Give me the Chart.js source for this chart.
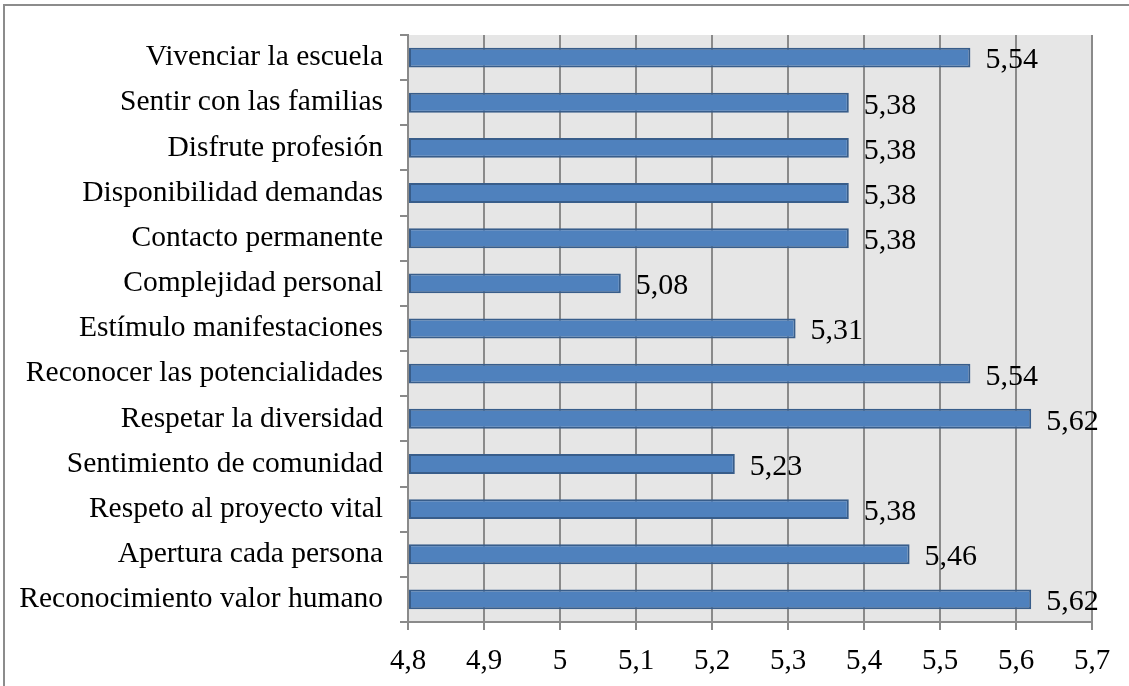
<!DOCTYPE html>
<html>
<head>
<meta charset="utf-8">
<script src="https://cdn.jsdelivr.net/npm/chart.js@4/dist/chart.umd.min.js"></script>
<style>
  html, body { margin: 0; padding: 0; background: #fff; }
  #wrap { position: relative; width: 1129px; height: 686px; overflow: hidden; }
  #frame { position: absolute; left: 3px; top: 4px; right: -10px; bottom: -10px;
           border-left: 2px solid #8c8c8c; border-top: 2px solid #8c8c8c; }
  canvas { position: absolute; left: 0; top: 0; }
</style>
</head>
<body>
<div id="wrap">
  <div id="frame"></div>
  <canvas id="barChart" width="1129" height="686"></canvas>
</div>
<script>
// categories, top to bottom as in the picture
const categories = [
  'Vivenciar la escuela',
  'Sentir con las familias',
  'Disfrute profesión',
  'Disponibilidad demandas',
  'Contacto permanente',
  'Complejidad personal',
  'Estímulo manifestaciones',
  'Reconocer las potencialidades',
  'Respetar la diversidad',
  'Sentimiento de comunidad',
  'Respeto al proyecto vital',
  'Apertura cada persona',
  'Reconocimiento valor humano'
];
const values = [5.54, 5.38, 5.38, 5.38, 5.38, 5.08, 5.31, 5.54, 5.62, 5.23, 5.38, 5.46, 5.62];
const xTicks = [4.8, 4.9, 5, 5.1, 5.2, 5.3, 5.4, 5.5, 5.6, 5.7];

const fmt = v => String(Math.round(v * 100) / 100).replace('.', ',');
const serif = "'Liberation Serif', 'Times New Roman', serif";

// grey plot background
const plotBg = {
  id: 'plotBg',
  beforeDraw(chart) {
    const a = chart.chartArea, ctx = chart.ctx;
    ctx.save();
    ctx.fillStyle = '#e6e6e6';
    ctx.fillRect(a.left, a.top, a.right - a.left, a.bottom - a.top);
    ctx.restore();
  }
};

// value labels to the right of each bar
const valueLabels = {
  id: 'valueLabels',
  afterDatasetsDraw(chart) {
    const ctx = chart.ctx;
    const meta = chart.getDatasetMeta(0);
    ctx.save();
    ctx.font = '30px ' + serif;
    ctx.fillStyle = '#000';
    ctx.textAlign = 'left';
    ctx.textBaseline = 'middle';
    meta.data.forEach((bar, i) => {
      ctx.fillText(fmt(values[i]), bar.x + 15, bar.y + 3);
    });
    ctx.restore();
  }
};

const ctx = document.getElementById('barChart').getContext('2d');
new Chart(ctx, {
  type: 'bar',
  data: {
    labels: categories,
    datasets: [{
      data: values,
      base: 4.8,
      backgroundColor: '#4f81bd',
      borderColor: '#385d8a',
      borderWidth: 2,
      borderSkipped: false,
      barPercentage: 0.44,
      categoryPercentage: 1
    }]
  },
  options: {
    indexAxis: 'y',
    responsive: false,
    animation: false,
    layout: { padding: { top: 35, right: 37, left: 0, bottom: 0 } },
    plugins: { legend: { display: false }, tooltip: { enabled: false } },
    scales: {
      x: {
        min: 4.8,
        max: 5.7,
        afterBuildTicks: axis => { axis.ticks = xTicks.map(v => ({ value: v })); },
        afterFit: axis => { axis.height = 64; },
        ticks: {
          callback: v => fmt(v),
          font: { family: serif, size: 29 },
          color: '#000',
          padding: 14,
          maxRotation: 0
        },
        grid: { color: '#8a8a8a', lineWidth: 2, tickLength: 8, drawTicks: true },
        border: { color: '#8a8a8a', width: 2 }
      },
      y: {
        afterFit: axis => { axis.width = 408; },
        ticks: {
          font: { family: serif, size: 29.5 },
          color: '#000',
          padding: 17
        },
        grid: { drawOnChartArea: false, color: '#8a8a8a', lineWidth: 2, tickLength: 8, offset: true },
        border: { color: '#8a8a8a', width: 2 }
      }
    }
  },
  plugins: [plotBg, valueLabels]
});
</script>
</body>
</html>
